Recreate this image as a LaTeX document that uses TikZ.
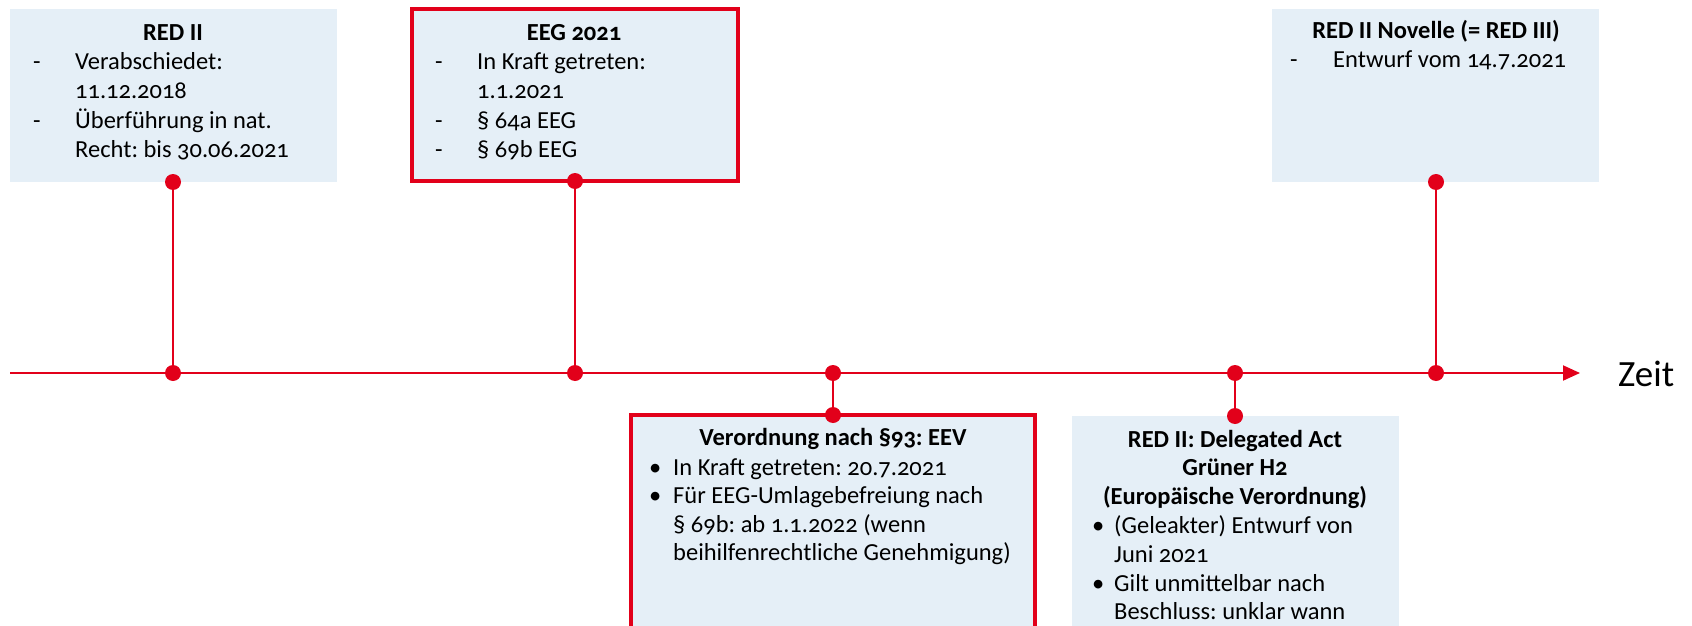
\documentclass[tikz,border=0pt]{standalone}
\usepackage{fontspec}
\setmainfont{Carlito}[Numbers=OldStyle]
\usetikzlibrary{arrows.meta}
\definecolor{rd}{RGB}{226,0,26}
\definecolor{bx}{RGB}{229,239,247}
\frenchspacing
\begin{document}
\begin{tikzpicture}[x=1pt,y=-1pt,
 box/.style={fill=bx, draw=none, inner sep=0pt, outer sep=0pt, anchor=north west},
 redbox/.style={box, draw=rd, line width=4pt},
 dot/.style={circle, fill=rd, inner sep=0pt, outer sep=0pt, minimum size=16pt},
 conn/.style={draw=rd, line width=2pt},
 txt/.style={anchor=base west, inner sep=0pt, font=\fontsize{24.5}{29}\selectfont},
 ttl/.style={anchor=base, inner sep=0pt, font=\fontsize{24.5}{29}\selectfont\bfseries}]
\useasboundingbox (0,0) rectangle (1692,626);
\clip (0,0) rectangle (1692,626);
% boxes
\node[box, minimum width=327pt, minimum height=173pt] (b1) at (10,9) {};
\node[redbox, minimum width=326pt, minimum height=172pt] (b2) at (412,9) {};
\node[box, minimum width=327pt, minimum height=173pt] (b3) at (1272,9) {};
\node[redbox, minimum width=404pt, minimum height=240pt] (b4) at (631,415) {};
\node[box, minimum width=327pt, minimum height=230pt] (b5) at (1072,416) {};
% timeline
\coordinate (tl0) at (10,373);
\coordinate (tl1) at (1580,373);
\draw[conn, -{Triangle[length=17pt,width=15pt]}] (tl0) -- (tl1);
\node[anchor=base west, inner sep=0pt, font=\fontsize{37}{44}\selectfont] (zeit) at (1618,386) {Zeit};
% dots
\node[dot] (d1) at (173,182) {};
\node[dot] (t1) at (173,373) {};
\node[dot] (d2) at (575,181) {};
\node[dot] (t2) at (575,373) {};
\node[dot] (d3) at (1436,182) {};
\node[dot] (t3) at (1436,373) {};
\node[dot] (t4) at (833,373) {};
\node[dot] (d4) at (833,415) {};
\node[dot] (t5) at (1235,373) {};
\node[dot] (d5) at (1235,416) {};
\draw[conn] (d1) -- (t1);
\draw[conn] (d2) -- (t2);
\draw[conn] (d3) -- (t3);
\draw[conn] (t4) -- (d4);
\draw[conn] (t5) -- (d5);
% box 1 text
\node[ttl] (b1t) at (173,41) {RED II};
\node[txt] (b1m1) at (33,70) {-};
\node[txt] (b1m2) at (33,128) {-};
\node[txt] (b1l1) at (75,70) {Verabschiedet:};
\node[txt] (b1l2) at (75,99) {11.12.2018};
\node[txt] (b1l3) at (75,128) {Überführung in nat.};
\node[txt] (b1l4) at (75,157) {Recht: bis 30.06.2021};
% box 2 text
\node[ttl] (b2t) at (574,41) {EEG 2021};
\node[txt] (b2m1) at (435,70) {-};
\node[txt] (b2m2) at (435,128) {-};
\node[txt] (b2m3) at (435,157) {-};
\node[txt] (b2l1) at (477,70) {In Kraft getreten:};
\node[txt] (b2l2) at (477,99) {1.1.2021};
\node[txt] (b2l3) at (477,128) {§ 64a EEG};
\node[txt] (b2l4) at (477,157) {§ 69b EEG};
% box 3 text
\node[ttl] (b3t) at (1436,39) {RED II Novelle (= RED III)};
\node[txt] (b3m1) at (1290,68) {-};
\node[txt] (b3l1) at (1333,68) {Entwurf vom 14.7.2021};
% box 4 text
\node[ttl] (b4t) at (833,445) {Verordnung nach §93: EEV};
\node[txt] (b4m1) at (649,475) {•};
\node[txt] (b4m2) at (649,503) {•};
\node[txt] (b4l1) at (673,475) {In Kraft getreten: 20.7.2021};
\node[txt] (b4l2) at (673,503) {Für EEG-Umlagebefreiung nach};
\node[txt] (b4l3) at (673,532) {§ 69b: ab 1.1.2022 (wenn};
\node[txt] (b4l4) at (673,560) {beihilfenrechtliche Genehmigung)};
% box 5 text
\node[ttl] (b5t1) at (1235,447) {RED II: Delegated Act};
\node[ttl] (b5t2) at (1235,475) {Grüner H2};
\node[ttl] (b5t3) at (1235,504) {(Europäische Verordnung)};
\node[txt] (b5m1) at (1092,533) {•};
\node[txt] (b5m2) at (1092,591) {•};
\node[txt] (b5l1) at (1114,533) {(Geleakter) Entwurf von};
\node[txt] (b5l2) at (1114,562) {Juni 2021};
\node[txt] (b5l3) at (1114,591) {Gilt unmittelbar nach};
\node[txt] (b5l4) at (1114,619) {Beschluss: unklar wann};
\end{tikzpicture}
\end{document}
